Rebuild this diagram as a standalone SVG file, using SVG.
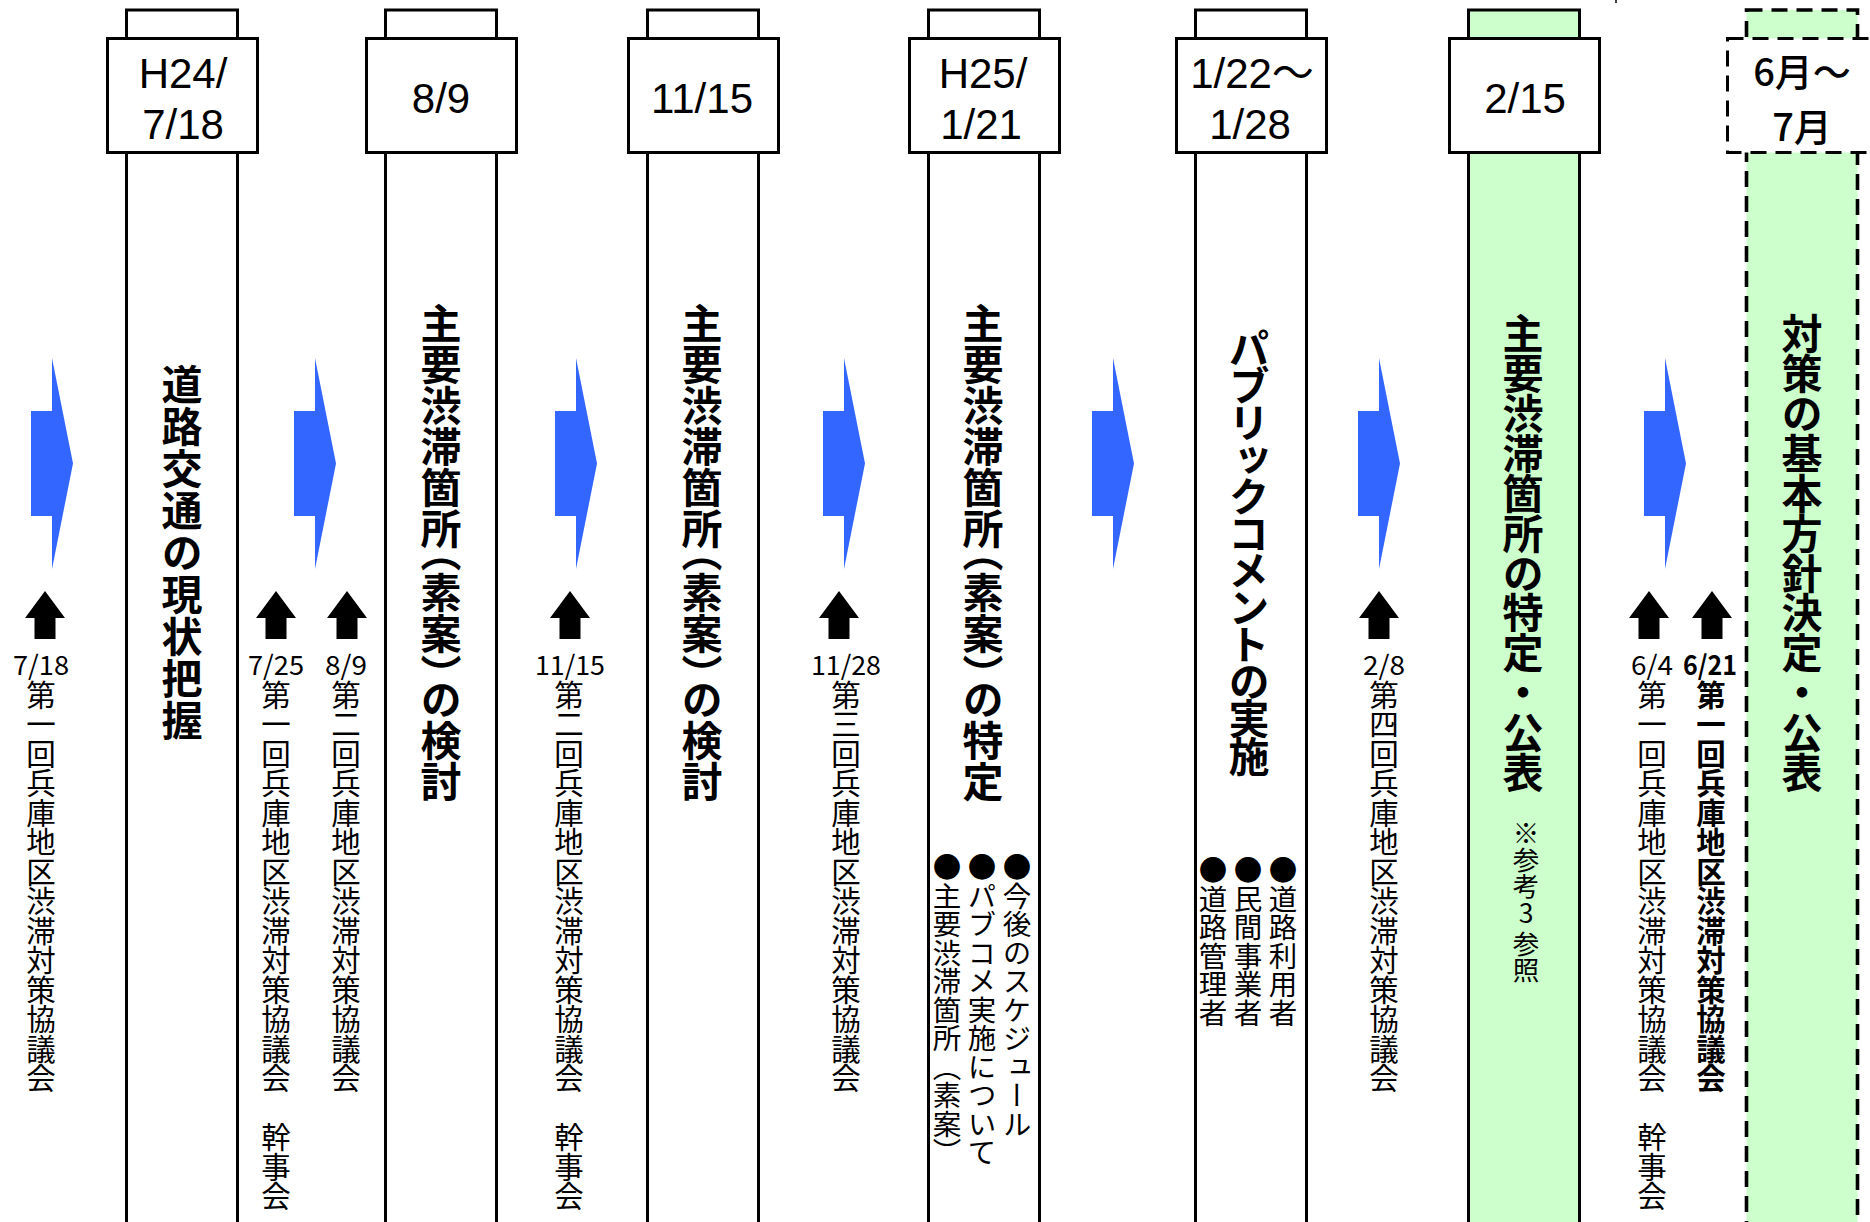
<svg xmlns="http://www.w3.org/2000/svg" xmlns:xlink="http://www.w3.org/1999/xlink" width="1870" height="1222" viewBox="0 0 1870 1222">
<style>
.col{fill:#ffffff;stroke:#000;stroke-width:3}
.green{fill:#CCFFCC}
.dash{stroke-dasharray:16 9;stroke-width:3.6}
.box{fill:#ffffff;stroke:#000;stroke-width:3}
.t{font-family:"Noto Sans CJK JP","Noto Sans CJK SC",sans-serif;fill:#000}
.bd{font-family:"Liberation Sans","Noto Sans CJK JP",sans-serif;font-size:42px;text-anchor:middle}
.bj{font-size:38px;text-anchor:middle;font-weight:500}
.title{font-size:41px;font-weight:bold;writing-mode:vertical-rl}
.mid{text-anchor:middle}
.lbl{font-size:29.5px;writing-mode:vertical-rl;text-orientation:upright}
.bul{font-size:28.5px;writing-mode:vertical-rl;text-orientation:upright}
.ld{font-size:27px;text-anchor:middle}
.b{font-weight:bold}
.blue{fill:#3366FF}
.up{fill:#000}
</style>
<defs>
<polygon id="fwd" points="0,411 21,411 21,358 42,463.5 21,569 21,516 0,516"/>
<polygon id="upa" points="0,591 20,618 10.5,618 10.5,639 -10.5,639 -10.5,618 -20,618"/>
</defs>
<rect x="0" y="0" width="1870" height="1222" fill="#ffffff"/>
<line x1="1616" y1="0" x2="1616" y2="3" stroke="#000" stroke-width="1.5"/>

<g id="node1">
<rect class="col" x="126.5" y="10" width="111" height="1240"/>
<rect class="box" x="107.5" y="38.5" width="150" height="114"/>
<text class="bd"><tspan x="183" y="88">H24/</tspan><tspan x="183" y="139">7/18</tspan></text>
<text class="t title mid" x="182" y="552" textLength="377" lengthAdjust="spacing">道路交通の現状把握</text>
</g>
<g id="node2">
<rect class="col" x="385.5" y="10" width="111" height="1240"/>
<rect class="box" x="366.5" y="38.5" width="150" height="114"/>
<text class="bd" x="441" y="113">8/9</text>
<text class="t title" x="441" y="303">主要渋滞箇所<tspan dy="-18">（素案）</tspan><tspan dy="-16">の検討</tspan></text>
</g>
<g id="node3">
<rect class="col" x="647.5" y="10" width="111" height="1240"/>
<rect class="box" x="628.5" y="38.5" width="150" height="114"/>
<text class="bd" x="702" y="113">11/15</text>
<text class="t title" x="702" y="303">主要渋滞箇所<tspan dy="-18">（素案）</tspan><tspan dy="-16">の検討</tspan></text>
</g>
<g id="node4">
<rect class="col" x="928.5" y="10" width="111" height="1240"/>
<rect class="box" x="909.5" y="38.5" width="150" height="114"/>
<text class="bd"><tspan x="983" y="88">H25/</tspan><tspan x="981" y="139">1/21</tspan></text>
<text class="t title" x="983" y="303">主要渋滞箇所<tspan dy="-18">（素案）</tspan><tspan dy="-16">の特定</tspan></text>
<text class="t bul" x="1017" y="853">●今後のスケジュール</text>
<text class="t bul" x="982" y="853">●パブコメ実施について</text>
<text class="t bul" x="947" y="853">●主要渋滞箇所（素案）</text>
</g>
<g id="node5">
<rect class="col" x="1195.5" y="10" width="111" height="1240"/>
<rect class="box" x="1176.5" y="38.5" width="150" height="114"/>
<text class="bd"><tspan x="1252" y="88">1/22～</tspan><tspan x="1250" y="139">1/28</tspan></text>
<text class="t title mid" x="1249" y="552" textLength="449" lengthAdjust="spacing">パブリックコメントの実施</text>
<text class="t bul" x="1283" y="856">●道路利用者</text>
<text class="t bul" x="1248" y="856">●民間事業者</text>
<text class="t bul" x="1213" y="856">●道路管理者</text>
</g>
<g id="node6">
<rect class="col green" x="1468.5" y="10" width="111" height="1240"/>
<rect class="box" x="1449.5" y="38.5" width="150" height="114"/>
<text class="bd" x="1525" y="113">2/15</text>
<text class="t title mid" x="1523" y="553" textLength="480" lengthAdjust="spacing">主要渋滞箇所の特定・公表</text>
<text class="t lbl" x="1526" y="820" style="font-size:26.5px">※参考3 <tspan y="930">参照</tspan></text>
</g>
<g id="node7">
<rect class="col green dash" x="1746.5" y="10" width="111" height="1240"/>
<rect class="box dash" x="1727.5" y="38.5" width="150" height="114"/>
<text class="t bj"><tspan x="1802" y="86">6月～</tspan><tspan x="1802" y="141">7月</tspan></text>
<text class="t title mid" x="1802" y="553" textLength="480" lengthAdjust="spacing">対策の基本方針決定・公表</text>
</g>

<g id="connectors">
<use xlink:href="#fwd" class="blue" x="31"/>
<use xlink:href="#fwd" class="blue" x="294"/>
<use xlink:href="#fwd" class="blue" x="555"/>
<use xlink:href="#fwd" class="blue" x="823"/>
<use xlink:href="#fwd" class="blue" x="1092"/>
<use xlink:href="#fwd" class="blue" x="1358"/>
<use xlink:href="#fwd" class="blue" x="1644"/>
</g>

<g id="event1">
<use xlink:href="#upa" class="up" x="45"/>
<text class="t ld" x="41" y="675" textLength="56" lengthAdjust="spacingAndGlyphs">7/18</text>
<text class="t lbl" x="41" y="680">第一回兵庫地区渋滞対策協議会</text>
</g>
<g id="event2">
<use xlink:href="#upa" class="up" x="276"/>
<text class="t ld" x="276" y="675" textLength="56" lengthAdjust="spacingAndGlyphs">7/25</text>
<text class="t lbl" x="276" y="680">第一回兵庫地区渋滞対策協議会　幹事会</text>
</g>
<g id="event3">
<use xlink:href="#upa" class="up" x="347"/>
<text class="t ld" x="346" y="675" textLength="42" lengthAdjust="spacingAndGlyphs">8/9</text>
<text class="t lbl" x="346" y="680">第二回兵庫地区渋滞対策協議会</text>
</g>
<g id="event4">
<use xlink:href="#upa" class="up" x="570"/>
<text class="t ld" x="570" y="675" textLength="70" lengthAdjust="spacingAndGlyphs">11/15</text>
<text class="t lbl" x="569" y="680">第二回兵庫地区渋滞対策協議会　幹事会</text>
</g>
<g id="event5">
<use xlink:href="#upa" class="up" x="839"/>
<text class="t ld" x="846" y="675" textLength="70" lengthAdjust="spacingAndGlyphs">11/28</text>
<text class="t lbl" x="846" y="680">第三回兵庫地区渋滞対策協議会</text>
</g>
<g id="event6">
<use xlink:href="#upa" class="up" x="1379"/>
<text class="t ld" x="1384" y="675" textLength="42" lengthAdjust="spacingAndGlyphs">2/8</text>
<text class="t lbl" x="1384" y="680">第四回兵庫地区渋滞対策協議会</text>
</g>
<g id="event7">
<use xlink:href="#upa" class="up" x="1649"/>
<text class="t ld" x="1652" y="675" textLength="42" lengthAdjust="spacingAndGlyphs">6/4</text>
<text class="t lbl" x="1652" y="680">第一回兵庫地区渋滞対策協議会　幹事会</text>
</g>
<g id="event8">
<use xlink:href="#upa" class="up" x="1712"/>
<text class="t ld b" x="1710" y="675" textLength="54" lengthAdjust="spacingAndGlyphs">6/21</text>
<text class="t lbl b" x="1711" y="680">第一回兵庫地区渋滞対策協議会</text>
</g>
</svg>
